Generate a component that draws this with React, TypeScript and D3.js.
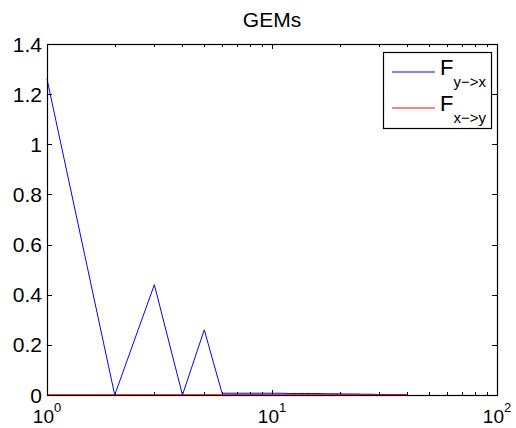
import { useEffect, useRef } from 'react';
import * as d3 from 'd3';

// lag index (1..40)
const lags = [
  1, 2, 3, 4, 5, 6, 7, 8, 9, 10,
  11, 12, 13, 14, 15, 16, 17, 18, 19, 20,
  21, 22, 23, 24, 25, 26, 27, 28, 29, 30,
  31, 32, 33, 34, 35, 36, 37, 38, 39, 40,
];

// F y->x
const fYX = [
  1.26, 0, 0.44, 0, 0.26, 0.007, 0.007, 0.007, 0.007, 0.007,
  0.007, 0.006, 0.006, 0.006, 0.006, 0.006, 0.005, 0.005, 0.005, 0.005,
  0.004, 0.004, 0.004, 0.004, 0.003, 0.003, 0.003, 0.003, 0.002, 0.002,
  0.002, 0.002, 0.002, 0.001, 0.001, 0.001, 0.001, 0.001, 0.0005, 0,
];

// F x->y
const fXY = [
  0, 0, 0, 0, 0, 0, 0, 0, 0, 0,
  0, 0, 0, 0, 0, 0, 0, 0, 0, 0,
  0, 0, 0, 0, 0, 0, 0, 0, 0, 0,
  0, 0, 0, 0, 0, 0, 0, 0, 0, 0,
];

const yTicks = [0, 0.2, 0.4, 0.6, 0.8, 1, 1.2, 1.4];
const xMajor = [1, 10, 100];
const xExp = ['0', '1', '2'];

export default function App() {
  const svgRef = useRef<SVGSVGElement>(null);

  useEffect(() => {
    if (!svgRef.current) return;
    const svg = d3.select(svgRef.current);
    svg.selectAll('*').remove();

    const font = '"Liberation Sans", Arial, sans-serif';
    const left = 47, right = 497, top = 44, bottom = 395;

    const x = d3.scaleLog().domain([1, 100]).range([left, right]);
    const y = d3.scaleLinear().domain([0, 1.4]).range([bottom, top]);

    // minor ticks
    const minor: number[] = [];
    [1, 10].forEach(d => {
      for (let k = 2; k <= 9; k++) minor.push(d * k);
    });

    const ticks = svg.append('g').attr('stroke', '#000').attr('stroke-width', 1);
    minor.forEach(v => {
      const px = Math.round(x(v)) + 0.5;
      ticks.append('line').attr('x1', px).attr('x2', px).attr('y1', bottom).attr('y2', bottom - 3);
      ticks.append('line').attr('x1', px).attr('x2', px).attr('y1', top).attr('y2', top + 3);
    });
    xMajor.forEach(v => {
      const px = Math.round(x(v)) + 0.5;
      ticks.append('line').attr('x1', px).attr('x2', px).attr('y1', bottom).attr('y2', bottom - 5);
      ticks.append('line').attr('x1', px).attr('x2', px).attr('y1', top).attr('y2', top + 5);
    });
    yTicks.forEach(v => {
      const py = Math.round(y(v)) + 0.5;
      ticks.append('line').attr('x1', left).attr('x2', left + 5).attr('y1', py).attr('y2', py);
      ticks.append('line').attr('x1', right).attr('x2', right - 5).attr('y1', py).attr('y2', py);
    });

    // series
    const line = d3.line<number>()
      .x((_, i) => x(lags[i]))
      .y(d => y(d));

    svg.append('path')
      .attr('d', line(fYX))
      .attr('fill', 'none')
      .attr('stroke', '#0000ff')
      .attr('stroke-width', 1);

    svg.append('path')
      .attr('d', line(fXY))
      .attr('fill', 'none')
      .attr('stroke', '#ff0000')
      .attr('stroke-width', 1.5);

    // axes box
    svg.append('rect')
      .attr('x', left + 0.5)
      .attr('y', top + 0.5)
      .attr('width', right - left)
      .attr('height', bottom - top)
      .attr('fill', 'none')
      .attr('stroke', '#000')
      .attr('stroke-width', 1.2);

    // y labels
    svg.append('g')
      .selectAll('text')
      .data(yTicks)
      .join('text')
      .attr('x', left - 5)
      .attr('y', d => y(d) + 7.5)
      .attr('text-anchor', 'end')
      .style('font-family', font)
      .style('font-size', '21px')
      .text(d => String(d));

    // x labels
    const xl = svg.append('g')
      .selectAll('text')
      .data(xMajor)
      .join('text')
      .attr('x', d => x(d))
      .attr('y', 423)
      .attr('text-anchor', 'middle')
      .style('font-family', font)
      .style('font-size', '19px');
    xl.append('tspan').text('10');
    xl.append('tspan')
      .attr('dy', -11)
      .style('font-size', '13px')
      .text((_, i) => xExp[i]);

    // title
    svg.append('text')
      .attr('x', 272)
      .attr('y', 27)
      .attr('text-anchor', 'middle')
      .style('font-family', font)
      .style('font-size', '21px')
      .text('GEMs');

    // legend
    const lg = svg.append('g');
    lg.append('rect')
      .attr('x', 383.5)
      .attr('y', 52.5)
      .attr('width', 108)
      .attr('height', 76)
      .attr('fill', '#fff')
      .attr('stroke', '#000')
      .attr('stroke-width', 1.2);

    const entries = [
      { color: '#0000ff', sub: 'y\u2212>x', cy: 72 },
      { color: '#ff0000', sub: 'x\u2212>y', cy: 108 },
    ];
    entries.forEach(e => {
      lg.append('line')
        .attr('x1', 392).attr('x2', 435)
        .attr('y1', e.cy).attr('y2', e.cy)
        .attr('stroke', e.color)
        .attr('stroke-width', 1);
      const t = lg.append('text')
        .attr('x', 440)
        .attr('y', e.cy + 3)
        .style('font-family', font)
        .style('font-size', '22px');
      t.append('tspan').text('F');
      t.append('tspan')
        .attr('dy', 12)
        .style('font-size', '15px')
        .text(e.sub);
    });
  }, []);

  return (
    <svg
      ref={svgRef}
      width={516}
      height={428}
      style={{ position: 'absolute', left: 0, top: 0, background: '#fff' }}
    />
  );
}
